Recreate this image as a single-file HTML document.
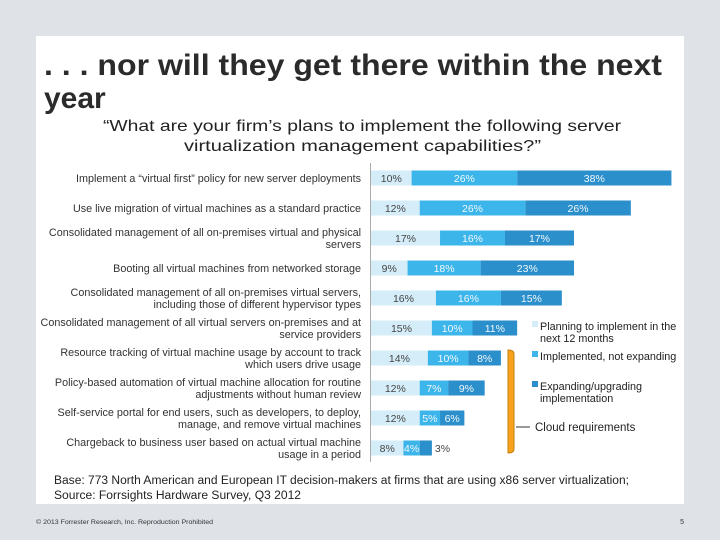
<!DOCTYPE html>
<html><head><meta charset="utf-8"><style>
body{margin:0;width:720px;height:540px;background:#dfe3e8;position:relative;overflow:hidden;font-family:"Liberation Sans",sans-serif;}
#panel{position:absolute;left:36px;top:36px;width:648px;height:468px;background:#fff;}
svg{position:absolute;left:0;top:0;}
</style></head><body>
<div id="panel"></div>
<svg id="c" width="720" height="540">
<text x="44" y="75" font-size="30" font-weight="bold" fill="#2b2b2b" textLength="618" lengthAdjust="spacingAndGlyphs">. . . nor will they get there within the next</text>
<text x="44" y="108" font-size="30" font-weight="bold" fill="#2b2b2b">year</text>
<text x="103" y="131" font-size="16" fill="#222" textLength="518" lengthAdjust="spacingAndGlyphs">“What are your firm’s plans to implement the following server</text>
<text x="184" y="151" font-size="16" fill="#222" textLength="357" lengthAdjust="spacingAndGlyphs">virtualization management capabilities?”</text>
<line x1="370.5" y1="163" x2="370.5" y2="462" stroke="#aaa"/>
<text x="54" y="484" font-size="11.5" fill="#222" textLength="575" lengthAdjust="spacingAndGlyphs">Base: 773 North American and European IT decision-makers at firms that are using x86 server virtualization;</text>
<text x="54" y="499" font-size="11.5" fill="#222" textLength="247" lengthAdjust="spacingAndGlyphs">Source: Forrsights Hardware Survey, Q3 2012</text>
<text x="36" y="524" font-size="6.5" fill="#333" textLength="177" lengthAdjust="spacingAndGlyphs">© 2013 Forrester Research, Inc. Reproduction Prohibited</text>
<text x="684" y="524" font-size="7" fill="#333" text-anchor="end">5</text>
<path d="M508 350 Q514 350 514 354 L514 449 Q514 453 508 453 Z" fill="#f7a21b" stroke="#c77f10"/>
<line x1="516" y1="427" x2="530" y2="427" stroke="#333"/>
<text x="535" y="431" font-size="11.5" fill="#222">Cloud requirements</text>
</svg>
<script>
const categories=[
["Implement  a “virtual first” policy for new server deployments"],
["Use live migration of virtual machines as a standard practice"],
["Consolidated management of all on-premises virtual and physical","servers"],
["Booting all virtual machines from networked storage"],
["Consolidated management of all on-premises virtual servers,","including those of different hypervisor types"],
["Consolidated management of all virtual servers on-premises and at","service providers"],
["Resource tracking of virtual machine usage by account to track","which users drive usage"],
["Policy-based automation of virtual machine allocation for routine","adjustments without human review"],
["Self-service portal for end users, such as developers, to deploy,","manage, and remove virtual machines"],
["Chargeback to business user based on actual virtual machine","usage in a period"]];
const planning=[10,12,17,9,16,15,14,12,12,8];
const implemented=[26,26,16,18,16,10,10,7,5,4];
const expanding=[38,26,17,23,15,11,8,9,6,3];
const seriesNames=["Planning to implement in the|next 12 months","Implemented, not expanding","Expanding/upgrading|implementation"];
const colors=["#d5edf9","#3cb6ea","#2b8fcb"];
const svg=document.getElementById('c');const NS="http://www.w3.org/2000/svg";
const x0=371,scale=4.06,rowY=i=>178+30*i,bh=15;
const xs=v=>v*scale;
function mk(t,a){const e=document.createElementNS(NS,t);for(const k in a)e.setAttribute(k,a[k]);svg.appendChild(e);return e;}
categories.forEach((lines,i)=>{
 const y=rowY(i);
 lines.forEach((s,j)=>{
  const t=mk('text',{x:361,y:(lines.length==1?y+4:y-2+j*12),'font-size':10.8,'text-anchor':'end',fill:'#333'});
  t.textContent=s;
  
  
 });
 let x=x0;
 [planning,implemented,expanding].forEach((arr,k)=>{
  const w=xs(arr[i]);
  const r=mk('rect',{x:x,y:y-bh/2,width:w,height:bh,fill:colors[k]});
  
  
  const small=w<16;
  const lx=(k==2&&small)?x+w+3:x+w/2;
  const t=mk('text',{x:lx,y:y+4,'font-size':10.5,'text-anchor':(k==2&&small)?'start':'middle',fill:k==0||(k==2&&small)?'#444':'#f2f8fc'});
  t.textContent=arr[i]+'%';
  
  
  x+=w;
 });
});
const legY=[326,356,386];
seriesNames.forEach((n,k)=>{
 const r=mk('rect',{x:532,y:legY[k]-5,width:6,height:6,fill:colors[k]});
 
 
 n.split('|').forEach((s,j)=>{
  const t=mk('text',{x:540,y:legY[k]+4+j*12,'font-size':10.8,fill:'#222'});
  t.textContent=s;
  
  
 });
});
</script>
</body></html>
